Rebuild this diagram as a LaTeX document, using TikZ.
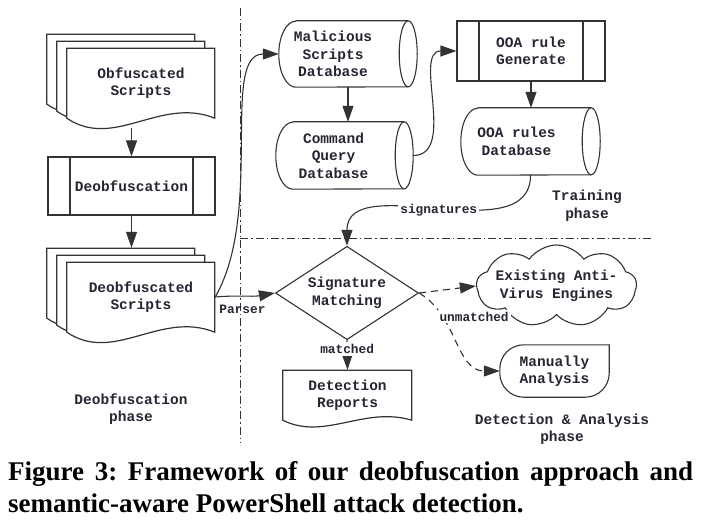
\documentclass[tikz,border=0pt]{standalone}
\usepackage{fontspec}
\setmonofont{Liberation Mono}
\newfontfamily\capfont{Liberation Serif}
\usetikzlibrary{shapes.geometric,shapes.symbols,arrows.meta,backgrounds,calc}

% one sheet of a document: node, width, height, wave, offset
\newcommand{\sheet}[5]{%
  \draw[sheet line,shift={(#1.south west)},shift={#5}]
    (0,0) -- (0,#3) -- (#2,#3) -- (#2,0)
    .. controls ({0.63*#2},{1.1*#4}) and ({0.32*#2},{-1.6*#4}) .. (0,0) -- cycle;}
% lying cylinder round a node: node, half height
\newcommand{\dbshape}[2]{%
  \draw[db line] ([xshift=17pt]#1.north west) -- ([xshift=-9pt]#1.north east)
    arc[start angle=90,end angle=-90,x radius=9,y radius=#2]
    -- ([xshift=17pt]#1.south west)
    arc[start angle=270,end angle=90,x radius=17,y radius=#2];
  \draw[db line] ([xshift=-9pt]#1.north east)
    arc[start angle=90,end angle=270,x radius=9,y radius=#2];}

\begin{document}
\begin{tikzpicture}[x=1pt,y=1pt,
  box font/.style={font=\fontsize{14.5}{17.5}\selectfont\ttfamily\bfseries,text=tx,align=center},
  doc node/.style={box font,minimum width=148,minimum height=70,inner sep=0},
  proc node/.style={box font,draw=ink,line width=1.1pt,inner sep=0,
    path picture={\draw[ink,line width=1.1pt]
      ([xshift=22pt]path picture bounding box.north west) -- ([xshift=22pt]path picture bounding box.south west)
      ([xshift=-22pt]path picture bounding box.north east) -- ([xshift=-22pt]path picture bounding box.south east);}},
  db node/.style={inner sep=0},
  db line/.style={draw=ink,line width=1.1pt},
  decide node/.style={box font,diamond,draw=ink,line width=1.1pt,minimum width=143,minimum height=62,inner sep=-4pt},
  cloud node/.style={box font,cloud,cloud puffs=9,cloud puff arc=110,aspect=2.4,draw=ink,line width=1.1pt,
    minimum width=160,minimum height=68,inner sep=-10pt},
  note node/.style={box font,minimum width=109,minimum height=52,inner sep=0},
  phase label/.style={box font},
  edge label/.style={font=\fontsize{12.8}{15}\selectfont\ttfamily\bfseries,text=tx,inner sep=2pt},
  cap text/.style={font=\fontsize{27}{32}\selectfont\capfont\bfseries\frenchspacing,inner sep=0,text=black},
  flow/.style={draw=ink,line width=1.1pt,-{Triangle[length=16pt,width=11pt]}},
  maybe/.style={flow,dash pattern=on 7pt off 5pt},
  phase line/.style={draw=ink,line width=0.9pt,dash pattern=on 8pt off 3pt on 1.5pt off 3pt},
  sheet line/.style={draw=ink,fill=white,line width=1.2pt}]
  \definecolor{ink}{rgb}{0.2,0.2,0.2}
  \definecolor{tx}{rgb}{0.15,0.15,0.2}
  \useasboundingbox (0,0) rectangle (708,-526);

  % deobfuscation phase
  \node[doc node] (obf) at (141,-83) {Obfuscated\\Scripts};
  \node[proc node,minimum width=167,minimum height=58] (deob) at (131.5,-186) {Deobfuscation};
  \node[doc node] (deobs) at (141,-297) {Deobfuscated\\Scripts};
  \node[phase label] (p1) at (131,-409) {Deobfuscation\\phase};

  % training phase
  \node[db node,minimum width=138,minimum height=66,
    label={[box font,xshift=-15pt]center:Malicious\\Scripts\\Database}] (msd) at (348,-54) {};
  \node[db node,minimum width=137,minimum height=67,
    label={[box font,xshift=-11pt]center:Command\\Query\\Database}] (cqd) at (344.5,-155.5) {};
  \node[proc node,minimum width=148,minimum height=60] (gen) at (531,-51) {OOA rule\\Generate};
  \node[db node,minimum width=139,minimum height=67,
    label={[box font,xshift=-14pt]center:OOA rules\\Database}] (ooadb) at (530.5,-141.5) {};
  \node[phase label] (p2) at (587,-206) {Training\\phase};
  \dbshape{msd}{33}
  \dbshape{cqd}{33.5}
  \dbshape{ooadb}{33.5}

  % detection & analysis phase
  \node[decide node] (sig) at (347,-293) {Signature\\Matching};
  \node[doc node,minimum width=129,minimum height=50] (rep) at (347.5,-395) {Detection\\Reports};
  \node[cloud node] (av) at (556.5,-286) {Existing Anti-\\Virus Engines};
  \node[note node] (man) at (554.5,-371) {Manually\\Analysis};
  \node[phase label] (p3) at (562,-429) {Detection \& Analysis\\phase};

  \begin{pgfonlayer}{background}
    \sheet{obf}{148}{70}{20}{(-20,14)}
    \sheet{obf}{148}{70}{20}{(-10,7)}
    \sheet{obf}{148}{70}{20}{(0,0)}
    \sheet{deobs}{148}{70}{20}{(-20,14)}
    \sheet{deobs}{148}{70}{20}{(-10,7)}
    \sheet{deobs}{148}{70}{20}{(0,0)}
    \sheet{rep}{129}{50}{13}{(0,0)}
  \end{pgfonlayer}
  \draw[ink,line width=1.1pt,rounded corners=24pt,line cap=rect]
    (man.north east) -- (man.south east) -- (man.south west) -- (man.north west) -- (man.north east);

  % phase borders
  \draw[phase line] (240,-8) -- (240,-443);
  \draw[phase line] (240,-238) -- (652,-238);

  \draw[flow] ($(obf.south -| deob.north)+(0,-10)$) -- (deob.north);
  \draw[flow] (deob.south) -- ($(deobs.north -| deob.south)+(0,14)$);
  \draw[flow] (deobs.east) to[out=60,in=180,in looseness=0.6] (msd.west);
  \draw[flow] (deobs.east) to[out=5,in=190]
    node[edge label,pos=0.45,below=7pt] {Parser} (sig.west);
  \draw[flow] (msd.south) -- (msd.south |- cqd.north);
  \draw[flow] (cqd.east) to[out=0,in=180] (gen.west);
  \draw[flow] (gen.south) -- (gen.south |- ooadb.north);
  \draw[flow] (ooadb.south) to[out=-90,in=90]
    node[edge label,fill=white] {signatures} (sig.north);
  \draw[flow] (sig.south) -- node[edge label,fill=white,pos=0.3] {matched} (rep.north);
  \draw[maybe] (sig.east) -- (av.west);
  \draw[maybe] (sig.east) to[out=-30,in=180]
    node[edge label,fill=white,pos=0.27,right=-6pt] {unmatched} (man.west);

  % caption
  \node[cap text,anchor=base west] (cap1) at (8,-480)
    {\makebox[685pt][s]{Figure 3: Framework of our deobfuscation approach and}};
  \node[cap text,anchor=base west] (cap2) at (8,-512) {semantic-aware PowerShell attack detection.};
\end{tikzpicture}
\end{document}
